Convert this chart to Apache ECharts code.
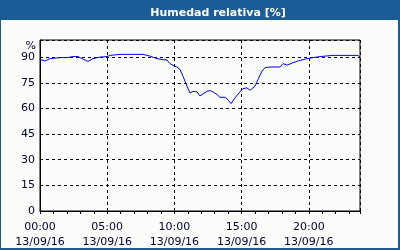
<!DOCTYPE html>
<html><head><meta charset="utf-8">
<script src="https://cdn.jsdelivr.net/npm/echarts@6/dist/echarts.min.js"></script>
<style>html,body{margin:0;padding:0;background:#fff}#c{width:400px;height:250px}</style>
</head><body><div id="c"></div>
<script>
const titleText = 'Humedad relativa [%]';
const dateLabel = '13/09/16';
const hours = [0,0.37,0.74,1.49,2.0,2.46,2.83,3.13,3.57,3.94,4.46,4.99,5.2,5.95,7.66,8.18,8.7,9.15,9.45,9.67,9.9,10.19,10.42,10.64,10.94,11.16,11.38,11.68,11.9,12.43,12.65,12.87,13.17,13.39,13.76,13.99,14.21,14.51,14.88,15.1,15.4,15.63,16.0,16.22,16.52,16.74,17.11,17.86,18.08,18.38,18.82,19.35,19.87,20.31,20.83,21.8,23.59,23.81];
const humidity = [88.7,87.7,89.1,89.7,89.7,90.3,90.3,89.1,87.5,89.1,90,90.3,91,91.6,91.6,90.6,89.1,88.5,88.3,86.2,85.2,84.2,82.8,78.8,73,69,70,69.7,67.3,70,70.4,69.7,68.1,66.5,66.5,65.1,62.8,66.1,69.7,71.6,72,70.6,73,76.9,81.8,83.8,84.2,84.2,86.2,85.3,86.7,88.1,89.1,89.7,90.3,91,91,90.3];
const yTicks = [0,15,30,45,60,75,90];
const xMax = 23.81;

const data = hours.map((h,i)=>[h,humidity[i]]);
const font = 'DejaVu Sans';
const chart = echarts.init(document.getElementById('c'), null, {renderer:'canvas'});
chart.setOption({
  animation:false,
  backgroundColor:'#fbfdfb',
  graphic:[
    {type:'rect', shape:{x:0,y:0,width:400,height:20}, style:{fill:'#1a5d96'}, z:-1},
    {type:'rect', shape:{x:0,y:0,width:1,height:250}, style:{fill:'#1a5d96'}, z:-1},
    {type:'rect', shape:{x:398,y:0,width:2,height:250}, style:{fill:'#1a5d96'}, z:-1},
    {type:'rect', shape:{x:0,y:248,width:400,height:2}, style:{fill:'#1a5d96'}, z:-1}
  ],
  title:{text:titleText, left:213, top:3, textAlign:'center',
    textStyle:{color:'#ffffff', fontFamily:font, fontWeight:'bold', fontSize:11}},
  grid:{left:40, right:40, top:40, bottom:39, show:true, borderColor:'#000', borderWidth:1, backgroundColor:'transparent'},
  xAxis:{type:'value', min:0, max:xMax, interval:5,
    axisLine:{lineStyle:{color:'#000', width:1}},
    axisTick:{show:true, length:3, lineStyle:{color:'#000'}},
    minorTick:{show:true, splitNumber:5, length:3, lineStyle:{color:'#000'}},
    splitLine:{show:true, lineStyle:{color:'#000', type:[3,3], width:1}},
    axisLabel:{showMaxLabel:false, color:'#000033', fontFamily:font, fontSize:11, margin:9, lineHeight:15,
      formatter:v=>(v<10?'0':'')+v+':00\n'+dateLabel}
  },
  yAxis:{type:'value', min:0, max:100, interval:15,
    name:'%', nameLocation:'end', nameGap:-6,
    nameTextStyle:{color:'#000033', fontFamily:font, fontSize:11, align:'right', verticalAlign:'middle', padding:[0,4,0,0]},
    axisLine:{show:true, lineStyle:{color:'#000', width:1}},
    axisTick:{show:false},
    splitLine:{show:true, lineStyle:{color:'#000', type:[3,3], width:1}},
    axisLabel:{showMaxLabel:false, color:'#000033', fontFamily:font, fontSize:11, margin:5,
      formatter:v=>yTicks.indexOf(v)>=0?String(v):''}
  },
  series:[{type:'line', data:data, showSymbol:false, symbol:'none',
    lineStyle:{color:'#0000ff', width:1}, z:5}]
});
</script></body></html>
